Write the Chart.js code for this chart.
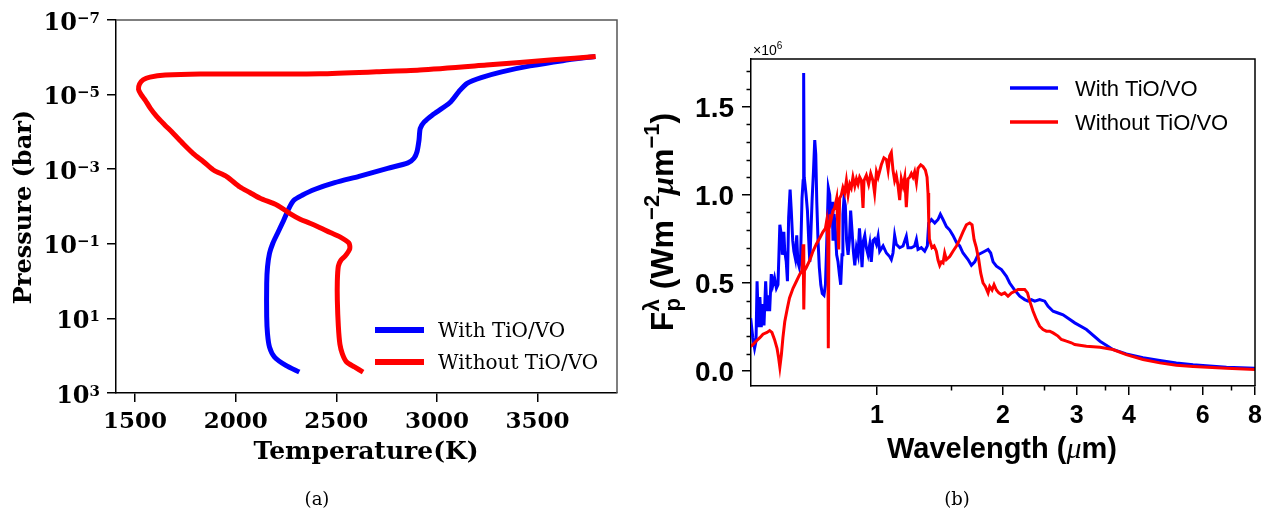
<!DOCTYPE html>
<html>
<head>
<meta charset="utf-8">
<title>TiO/VO profiles and spectra</title>
<script src="https://cdn.jsdelivr.net/npm/chart.js@4.4.1/dist/chart.umd.min.js"></script>
<style>
    html, body { margin: 0; padding: 0; background: #fff; }
    #page { position: relative; width: 1278px; height: 515px; overflow: hidden; background: #fff; }
    .panel { position: absolute; top: 0; height: 515px; }
    #panelA { left: 0; width: 640px; }
    #panelB { left: 640px; width: 638px; }
</style>
</head>
<body>
<div id="page">
    <div class="panel" id="panelA"><canvas id="profileChart"></canvas></div>
    <div class="panel" id="panelB"><canvas id="spectrumChart"></canvas></div>
</div>
<script>
// ---- panel (a): temperature / pressure profiles (T in K, P in bar) ----
const profileTempWith = [2316, 2249, 2192, 2168, 2158, 2154, 2154, 2158, 2168, 2184, 2208, 2239, 2265, 2289,
    2330, 2391, 2492, 2613, 2755, 2856, 2886, 2901, 2911, 2917, 2937, 2978, 3028, 3069, 3109, 3150, 3220,
    3322, 3463, 3625, 3787];
const profilePresWith = [275, 182, 107, 59, 26, 9.1, 1.17, 0.42, 0.18, 0.098, 0.052, 0.023, 0.011, 0.0068,
    0.0050, 0.0035, 0.0023, 0.00155, 0.00095, 0.00068, 0.00051, 0.00034, 0.000166, 8.1e-5, 5.4e-5, 3.5e-5,
    2.3e-5, 1.55e-5, 8.3e-6, 5.0e-6, 3.5e-6, 2.45e-6, 1.7e-6, 1.23e-6, 9.5e-7];
const profileTempWithout = [2633, 2590, 2551, 2530, 2518, 2510, 2505, 2505, 2510, 2522, 2545, 2567, 2562, 2518,
    2470, 2419, 2369, 2320, 2270, 2204, 2121, 2070, 2021, 1955, 1889, 1840, 1789, 1740, 1690, 1645, 1608,
    1575, 1550, 1530, 1517, 1522, 1540, 1574, 1650, 1823, 2100, 2419, 2700, 2915, 3246, 3577, 3789];
const profilePresWithout = [275, 200, 148, 89, 50, 15.8, 3.2, 1.0, 0.40, 0.28, 0.21, 0.135, 0.095, 0.065,
    0.050, 0.037, 0.028, 0.022, 0.0155, 0.0091, 0.0060, 0.0042, 0.0030, 0.00158, 0.00105, 0.00063, 0.00038,
    0.00021, 0.00011, 6.3e-5, 3.9e-5, 2.3e-5, 1.4e-5, 1.0e-5, 7.2e-6, 5.2e-6, 4.0e-6, 3.4e-6, 3.0e-6,
    2.8e-6, 2.8e-6, 2.75e-6, 2.45e-6, 2.2e-6, 1.62e-6, 1.17e-6, 9.5e-7];
const profileTempTicks = [1500, 2000, 2500, 3000, 3500];
const profilePresTicks = [1e-7, 1e-5, 1e-3, 1e-1, 1e1, 1e3];

// ---- panel (b): emission spectra, wavelength in um, flux in 1e6 W m^-2 um^-1 ----
const waveWith = [0.499, 0.505, 0.510, 0.514, 0.517, 0.521, 0.525, 0.529, 0.534, 0.537, 0.542, 0.546, 0.551,
    0.554, 0.559, 0.564, 0.569, 0.575, 0.580, 0.583, 0.586, 0.591, 0.594, 0.599, 0.602, 0.607, 0.611, 0.615,
    0.620, 0.624, 0.629, 0.633, 0.638, 0.643, 0.647, 0.652, 0.657, 0.662, 0.666, 0.668, 0.670, 0.673, 0.677,
    0.682, 0.687, 0.691, 0.694, 0.700, 0.705, 0.710, 0.714, 0.718, 0.723, 0.728, 0.734, 0.740, 0.747, 0.753,
    0.757, 0.761, 0.765, 0.771, 0.775, 0.781, 0.785, 0.790, 0.795, 0.801, 0.807, 0.813, 0.819, 0.825, 0.829,
    0.834, 0.840, 0.846, 0.853, 0.859, 0.865, 0.872, 0.878, 0.885, 0.893, 0.901, 0.908, 0.914, 0.921, 0.928,
    0.935, 0.943, 0.952, 0.961, 0.969, 0.978, 0.987, 0.997, 1.006, 1.015, 1.034, 1.053, 1.072, 1.082, 1.092,
    1.102, 1.112, 1.133, 1.154, 1.175, 1.186, 1.208, 1.230, 1.242, 1.253, 1.276, 1.300, 1.319, 1.329, 1.349,
    1.374, 1.399, 1.417, 1.438, 1.465, 1.492, 1.519, 1.548, 1.576, 1.605, 1.650, 1.681, 1.712, 1.743, 1.776,
    1.809, 1.842, 1.869, 1.894, 1.929, 1.983, 2.038, 2.075, 2.133, 2.193, 2.254, 2.296, 2.338, 2.381, 2.447,
    2.516, 2.563, 2.634, 2.707, 2.783, 2.861, 2.968, 3.165, 3.41, 3.66, 3.94, 4.32, 4.74, 5.19, 5.69, 6.23,
    6.84, 8.0];
const fluxWith = [0.30, 0.19, 0.13, 0.17, 0.51, 0.25, 0.42, 0.25, 0.38, 0.26, 0.51, 0.34, 0.43, 0.34, 0.55,
    0.49, 0.53, 0.47, 0.49, 0.66, 0.83, 0.77, 0.66, 0.79, 0.68, 0.62, 0.51, 0.87, 1.03, 0.91, 0.74, 0.68,
    0.64, 0.77, 0.62, 0.59, 0.66, 0.98, 1.08, 1.69, 1.10, 1.06, 1.00, 0.91, 0.74, 0.62, 0.74, 0.98, 1.13,
    1.31, 1.23, 0.96, 0.74, 0.59, 0.49, 0.44, 0.43, 0.49, 0.66, 0.85, 1.04, 1.00, 0.85, 0.96, 0.74, 0.89,
    0.81, 0.66, 0.62, 0.55, 0.49, 0.66, 0.89, 0.98, 0.94, 0.74, 0.66, 0.74, 0.91, 0.79, 0.68, 0.60, 0.70,
    0.66, 0.81, 0.72, 0.59, 0.74, 0.77, 0.70, 0.66, 0.72, 0.62, 0.74, 0.75, 0.72, 0.765, 0.68, 0.71, 0.67,
    0.65, 0.633, 0.67, 0.77, 0.72, 0.70, 0.71, 0.765, 0.70, 0.70, 0.71, 0.746, 0.69, 0.70, 0.68, 0.71, 0.84,
    0.86, 0.84, 0.86, 0.89, 0.86, 0.82, 0.80, 0.77, 0.73, 0.71, 0.67, 0.633, 0.60, 0.62, 0.66, 0.67, 0.68,
    0.69, 0.67, 0.62, 0.595, 0.576, 0.538, 0.50, 0.46, 0.425, 0.406, 0.397, 0.406, 0.397, 0.406, 0.397,
    0.368, 0.34, 0.33, 0.32, 0.30, 0.274, 0.236, 0.170, 0.123, 0.098, 0.076, 0.061, 0.047, 0.036, 0.029,
    0.023, 0.017];
const waveWithout = [0.499, 0.505, 0.514, 0.525, 0.534, 0.546, 0.554, 0.561, 0.569, 0.577, 0.582, 0.586,
    0.591, 0.596, 0.602, 0.611, 0.618, 0.630, 0.642, 0.654, 0.662, 0.666, 0.668, 0.669, 0.671, 0.677, 0.691,
    0.703, 0.716, 0.730, 0.743, 0.753, 0.758, 0.763, 0.765, 0.768, 0.772, 0.775, 0.785, 0.792, 0.801, 0.810,
    0.814, 0.822, 0.829, 0.837, 0.845, 0.853, 0.861, 0.868, 0.876, 0.885, 0.893, 0.901, 0.909, 0.918, 0.926,
    0.931, 0.943, 0.955, 0.966, 0.978, 0.987, 0.997, 1.006, 1.024, 1.039, 1.053, 1.063, 1.072, 1.082, 1.092,
    1.102, 1.112, 1.123, 1.133, 1.143, 1.154, 1.165, 1.175, 1.186, 1.197, 1.208, 1.219, 1.230, 1.242, 1.253,
    1.272, 1.288, 1.305, 1.317, 1.324, 1.329, 1.334, 1.341, 1.353, 1.369, 1.386, 1.399, 1.412, 1.425, 1.438,
    1.451, 1.465, 1.492, 1.519, 1.548, 1.576, 1.605, 1.635, 1.665, 1.687, 1.706, 1.727, 1.750, 1.769, 1.792,
    1.815, 1.842, 1.859, 1.883, 1.904, 1.929, 1.954, 1.983, 2.019, 2.056, 2.095, 2.133, 2.173, 2.213, 2.254,
    2.288, 2.317, 2.360, 2.403, 2.447, 2.493, 2.539, 2.586, 2.634, 2.707, 2.757, 2.835, 2.913, 2.968, 3.165,
    3.41, 3.66, 3.94, 4.32, 4.74, 5.19, 5.69, 6.84, 8.0];
const fluxWithout = [0.14, 0.15, 0.17, 0.19, 0.21, 0.22, 0.23, 0.22, 0.18, 0.13, 0.076, 0.023, 0.094, 0.19,
    0.28, 0.36, 0.415, 0.47, 0.51, 0.55, 0.57, 0.72, 0.57, 0.35, 0.57, 0.585, 0.63, 0.68, 0.72, 0.755, 0.79,
    0.81, 0.85, 0.74, 0.13, 0.85, 0.89, 0.85, 0.91, 0.925, 0.98, 0.69, 0.98, 1.00, 1.04, 1.01, 1.08, 1.00,
    1.06, 1.04, 1.10, 1.05, 1.09, 1.06, 1.10, 1.08, 0.925, 1.08, 1.11, 1.06, 1.12, 1.08, 1.01, 1.13, 1.10,
    1.17, 1.21, 1.20, 1.14, 1.22, 1.24, 1.14, 1.08, 1.11, 1.05, 0.97, 1.09, 1.05, 1.10, 0.93, 1.09, 1.10,
    1.12, 1.10, 1.13, 1.07, 1.15, 1.17, 1.16, 1.14, 1.10, 1.01, 0.86, 0.75, 0.73, 0.70, 0.71, 0.68, 0.63,
    0.60, 0.62, 0.614, 0.67, 0.633, 0.65, 0.68, 0.71, 0.746, 0.79, 0.83, 0.84, 0.83, 0.746, 0.70, 0.633,
    0.557, 0.50, 0.48, 0.444, 0.48, 0.46, 0.49, 0.46, 0.444, 0.435, 0.444, 0.425, 0.444, 0.453, 0.463, 0.463,
    0.463, 0.444, 0.397, 0.340, 0.293, 0.255, 0.236, 0.227, 0.227, 0.217, 0.199, 0.180, 0.170, 0.161, 0.151,
    0.142, 0.136, 0.123, 0.094, 0.066, 0.047, 0.034, 0.027, 0.017, 0.010];
const waveTicks = [1, 2, 3, 4, 6, 8];
const waveMinorTicks = [1.5, 2.5, 3.5, 5, 7];
const fluxTicks = [0, 0.5, 1.0, 1.5];
const fluxMinorTicks = [0.1, 0.2, 0.3, 0.4, 0.6, 0.7, 0.8, 0.9, 1.1, 1.2, 1.3, 1.4, 1.6, 1.7];

const seriesLabels = ['With TiO/VO', 'Without TiO/VO'];
const seriesColors = ['#0000ff', '#ff0000'];

const SERIF = '"DejaVu Serif"';
const SANS = '"Liberation Sans"';

// Draws a row of text pieces on one baseline (for super/subscripts).
// A piece with keep:true does not advance the pen, so the next piece stacks on it.
function drawRuns(ctx, runs, x, y, align) {
    let total = 0;
    runs.forEach(r => {
        ctx.font = r.font;
        r.w = ctx.measureText(r.text).width;
        r.adv = r.keep ? 0 : r.w;
        total += r.adv;
    });
    let cx = align === 'center' ? x - total / 2 : align === 'right' ? x - total : x;
    ctx.textAlign = 'left';
    ctx.textBaseline = 'alphabetic';
    runs.forEach(r => {
        ctx.font = r.font;
        ctx.fillText(r.text, cx, y + (r.dy || 0));
        cx += r.adv;
    });
}

function drawRotated(ctx, runs, x, y) {
    ctx.save();
    ctx.translate(x, y);
    ctx.rotate(-Math.PI / 2);
    drawRuns(ctx, runs, 0, 0, 'center');
    ctx.restore();
}

function drawLegend(ctx, x0, x1, textX, rows, lineWidth, font, gap) {
    rows.forEach((row, i) => {
        const ly = row.y;
        ctx.strokeStyle = seriesColors[i];
        ctx.lineWidth = lineWidth;
        ctx.lineCap = 'butt';
        ctx.beginPath();
        ctx.moveTo(x0, ly);
        ctx.lineTo(x1, ly);
        ctx.stroke();
        ctx.fillStyle = '#000';
        ctx.font = font;
        ctx.textAlign = 'left';
        ctx.textBaseline = 'alphabetic';
        ctx.fillText(seriesLabels[i], textX, ly + gap);
    });
}

function axisGrid(len) {
    return { display: true, drawOnChartArea: false, drawTicks: true, tickLength: len, color: '#000', lineWidth: 1.5 };
}

const profileDecor = {
    id: 'profileDecor',
    afterDraw(chart) {
        const { ctx, chartArea: a, scales: { x, y } } = chart;
        ctx.save();
        ctx.strokeStyle = '#555';
        ctx.lineWidth = 1.5;
        ctx.beginPath();
        ctx.moveTo(a.left, a.top);
        ctx.lineTo(a.right, a.top);
        ctx.lineTo(a.right, a.bottom);
        ctx.stroke();

        ctx.fillStyle = '#000';
        profilePresTicks.forEach(p => {
            const e = Math.round(Math.log10(p));
            drawRuns(ctx, [
                { text: '10', font: `bold 24px ${SERIF}` },
                { text: e < 0 ? '\u2212' + (-e) : String(e), font: `bold 15px ${SERIF}`, dy: -7 }
            ], 100, y.getPixelForValue(p) + 9.5, 'right');
        });
        profileTempTicks.forEach(t => {
            drawRuns(ctx, [{ text: String(t), font: `bold 23px ${SERIF}` }], x.getPixelForValue(t), 428, 'center');
        });

        drawRuns(ctx, [{ text: 'Temperature(K)', font: `bold 25px ${SERIF}` }], 366, 459, 'center');
        drawRotated(ctx, [{ text: 'Pressure (bar)', font: `bold 24px ${SERIF}` }], 31, 207);

        drawLegend(ctx, 375, 424, 438, [{ y: 330 }, { y: 362 }], 6, `20px ${SERIF}`, 7);

        ctx.fillStyle = '#000';
        drawRuns(ctx, [{ text: '(a)', font: `18px ${SERIF}` }], 317, 505, 'center');
        ctx.restore();
    }
};

const spectrumDecor = {
    id: 'spectrumDecor',
    afterDraw(chart) {
        const { ctx, chartArea: a, scales: { x, y } } = chart;
        ctx.save();
        ctx.strokeStyle = '#000';
        ctx.lineWidth = 1.5;
        ctx.beginPath();
        ctx.moveTo(a.left, a.top);
        ctx.lineTo(a.right, a.top);
        ctx.lineTo(a.right, a.bottom);
        ctx.stroke();

        // minor tick marks
        ctx.beginPath();
        fluxMinorTicks.forEach(v => {
            const py = Math.round(y.getPixelForValue(v)) + 0.5;
            ctx.moveTo(a.left - 4.5, py);
            ctx.lineTo(a.left, py);
        });
        waveMinorTicks.forEach(v => {
            const px = Math.round(x.getPixelForValue(v)) + 0.5;
            ctx.moveTo(px, a.bottom);
            ctx.lineTo(px, a.bottom + 4.5);
        });
        ctx.stroke();

        ctx.fillStyle = '#000';
        fluxTicks.forEach(v => {
            drawRuns(ctx, [{ text: v.toFixed(1), font: `bold 28px ${SANS}` }], 94, y.getPixelForValue(v) + 10, 'right');
        });
        waveTicks.forEach(v => {
            drawRuns(ctx, [{ text: String(v), font: `bold 25px ${SANS}` }], x.getPixelForValue(v), 423, 'center');
        });

        drawRuns(ctx, [
            { text: '\u00d710', font: `14px ${SANS}` },
            { text: '6', font: `10px ${SANS}`, dy: -6 }
        ], 113, 55, 'left');

        drawRuns(ctx, [
            { text: 'Wavelength (', font: `bold 29px ${SANS}` },
            { text: '\u03bc', font: `italic 30px "Liberation Serif"` },
            { text: 'm)', font: `bold 29px ${SANS}` }
        ], 362, 458, 'center');

        drawRotated(ctx, [
            { text: 'F', font: `bold 32px ${SANS}` },
            { text: '\u03bb', font: `bold 22px ${SANS}`, dy: -14, keep: true },
            { text: 'p', font: `bold 22px ${SANS}`, dy: 7 },
            { text: ' (Wm', font: `bold 32px ${SANS}` },
            { text: '\u22122', font: `bold 22px ${SANS}`, dy: -14 },
            { text: '\u03bc', font: `italic bold 32px "Liberation Serif"` },
            { text: 'm', font: `bold 32px ${SANS}` },
            { text: '\u22121', font: `bold 22px ${SANS}`, dy: -14 },
            { text: ')', font: `bold 32px ${SANS}` }
        ], 33, 222);

        drawLegend(ctx, 370, 418, 435, [{ y: 88 }, { y: 122 }], 3.5, `22px ${SANS}`, 7.5);

        ctx.fillStyle = '#000';
        drawRuns(ctx, [{ text: '(b)', font: `18px ${SERIF}` }], 317, 505, 'center');
        ctx.restore();
    }
};

function toPoints(xs, ys) {
    return xs.map((v, i) => ({ x: v, y: ys[i] }));
}

new Chart(document.getElementById('profileChart'), {
    type: 'line',
    data: {
        datasets: [
            {
                label: seriesLabels[0],
                data: toPoints(profileTempWith, profilePresWith),
                borderColor: seriesColors[0],
                borderWidth: 5,
                tension: 0.25,
                pointRadius: 0,
                fill: false,
                order: 2
            },
            {
                label: seriesLabels[1],
                data: toPoints(profileTempWithout, profilePresWithout),
                borderColor: seriesColors[1],
                borderWidth: 5,
                tension: 0.25,
                pointRadius: 0,
                fill: false,
                order: 1
            }
        ]
    },
    options: {
        responsive: true,
        maintainAspectRatio: false,
        animation: false,
        layout: { padding: { top: 20, right: 23, left: 0, bottom: 0 } },
        plugins: { legend: { display: false }, tooltip: { enabled: false } },
        scales: {
            x: {
                type: 'linear',
                min: 1405,
                max: 3895,
                grid: axisGrid(9),
                border: { display: true, color: '#000', width: 1.5 },
                ticks: { callback: () => '' },
                afterBuildTicks: (scale) => { scale.ticks = profileTempTicks.map(v => ({ value: v })); },
                afterFit: (scale) => { scale.height = 122; }
            },
            y: {
                type: 'logarithmic',
                reverse: true,
                min: 1e-7,
                max: 1e3,
                grid: axisGrid(9),
                border: { display: true, color: '#000', width: 1.5 },
                ticks: { callback: () => '' },
                afterBuildTicks: (scale) => { scale.ticks = profilePresTicks.map(v => ({ value: v })); },
                afterFit: (scale) => { scale.width = 116; }
            }
        }
    },
    plugins: [profileDecor]
});

new Chart(document.getElementById('spectrumChart'), {
    type: 'line',
    data: {
        datasets: [
            {
                label: seriesLabels[0],
                data: toPoints(waveWith, fluxWith),
                borderColor: seriesColors[0],
                borderWidth: 3,
                tension: 0,
                pointRadius: 0,
                fill: false,
                order: 2
            },
            {
                label: seriesLabels[1],
                data: toPoints(waveWithout, fluxWithout),
                borderColor: seriesColors[1],
                borderWidth: 3,
                tension: 0,
                pointRadius: 0,
                fill: false,
                order: 1
            }
        ]
    },
    options: {
        responsive: true,
        maintainAspectRatio: false,
        animation: false,
        layout: { padding: { top: 59, right: 23, left: 0, bottom: 0 } },
        plugins: { legend: { display: false }, tooltip: { enabled: false } },
        scales: {
            x: {
                type: 'logarithmic',
                min: 0.5,
                max: 8,
                grid: axisGrid(9),
                border: { display: true, color: '#000', width: 1.5 },
                ticks: { callback: () => '' },
                afterBuildTicks: (scale) => { scale.ticks = waveTicks.map(v => ({ value: v })); },
                afterFit: (scale) => { scale.height = 129; }
            },
            y: {
                type: 'linear',
                min: -0.084,
                max: 1.77,
                grid: axisGrid(9),
                border: { display: true, color: '#000', width: 1.5 },
                ticks: { callback: () => '' },
                afterBuildTicks: (scale) => { scale.ticks = fluxTicks.map(v => ({ value: v })); },
                afterFit: (scale) => { scale.width = 111; }
            }
        }
    },
    plugins: [spectrumDecor]
});
</script>
</body>
</html>
